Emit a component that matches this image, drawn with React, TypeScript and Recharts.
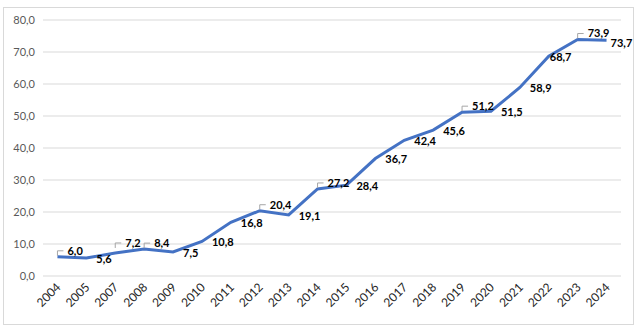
import React from 'react';
import { LineChart, Line, XAxis, YAxis, CartesianGrid, LabelList } from 'recharts';

const years = ['2004', '2005', '2007', '2008', '2009', '2010', '2011', '2012', '2013', '2014', '2015', '2016', '2017', '2018', '2019', '2020', '2021', '2022', '2023', '2024'];
const values = [6.0, 5.6, 7.2, 8.4, 7.5, 10.8, 16.8, 20.4, 19.1, 27.2, 28.4, 36.7, 42.4, 45.6, 51.2, 51.5, 58.9, 68.7, 73.9, 73.7];
const yTicks = [0, 10, 20, 30, 40, 50, 60, 70, 80];

const data = years.map((y, i) => ({ year: y, value: values[i] }));

// label placement style: indices placed above with a leader line
const aboveIdx = new Set([0, 2, 3, 7, 9, 14, 18]);
const labelStyle: Record<number, { dx: number; dy: number }> = {
  2: { dx: 10, dy: -10 },
  17: { dx: 1, dy: 1 },
  19: { dx: 4, dy: 3 },
};

const fmt = (v: number) => v.toFixed(1).replace('.', ',');
const FONT = 'Lato, "Open Sans", sans-serif';

const DataLabel = (props: any) => {
  const { x, y, value, index } = props;
  const above = aboveIdx.has(index);
  const st = labelStyle[index] || (above ? { dx: 10, dy: -6 } : { dx: 10, dy: 1 });
  const tx = x + st.dx;
  const ty = y + st.dy;
  return (
    <g>
      {above && (
        <path
          d={`M ${x} ${ty + 5} V ${ty} H ${tx - 4}`}
          stroke="#a6a6a6"
          strokeWidth={1}
          fill="none"
        />
      )}
      <text
        x={tx}
        y={ty}
        dy="0.35em"
        textAnchor="start"
        fontFamily={FONT}
        fontSize={11}
        fontWeight="bold"
        fill="#000000"
      >
        {fmt(value)}
      </text>
    </g>
  );
};

const XTick = (props: any) => {
  const { x, payload } = props;
  return (
    <text
      transform={`translate(${x + 4}, ${288}) rotate(-45)`}
      textAnchor="end"
      fontFamily={FONT}
      fontSize={12}
      fill="#262626"
    >
      {payload.value}
    </text>
  );
};

export default function App() {
  return (
    <div style={{ position: 'absolute', left: 0, top: 0, width: 640, height: 331, background: '#ffffff' }}>
      <div
        style={{
          position: 'absolute',
          left: 3,
          top: 7,
          width: 629,
          height: 316,
          border: '1px solid #d9d9d9',
        }}
      />
      <div style={{ position: 'absolute', left: 0, top: 0 }}>
        <LineChart
          width={640}
          height={331}
          data={data}
          margin={{ top: 20, right: 19, bottom: 0, left: 0 }}
        >
          <CartesianGrid vertical={false} stroke="#d9d9d9" strokeWidth={1} />
          <XAxis
            dataKey="year"
            height={55}
            axisLine={false}
            tickLine={false}
            interval={0}
            padding={{ left: 14.45, right: 14.45 }}
            tick={<XTick />}
          />
          <YAxis
            width={43}
            domain={[0, 80]}
            ticks={yTicks}
            axisLine={false}
            tickLine={false}
            tickMargin={2}
            tickFormatter={fmt}
            tick={{ fontFamily: FONT, fontSize: 11, fill: '#595959' }}
          />
          <Line
            type="linear"
            dataKey="value"
            stroke="#4472c4"
            strokeWidth={3}
            dot={false}
            isAnimationActive={false}
          >
            <LabelList dataKey="value" content={<DataLabel />} />
          </Line>
        </LineChart>
      </div>
    </div>
  );
}
